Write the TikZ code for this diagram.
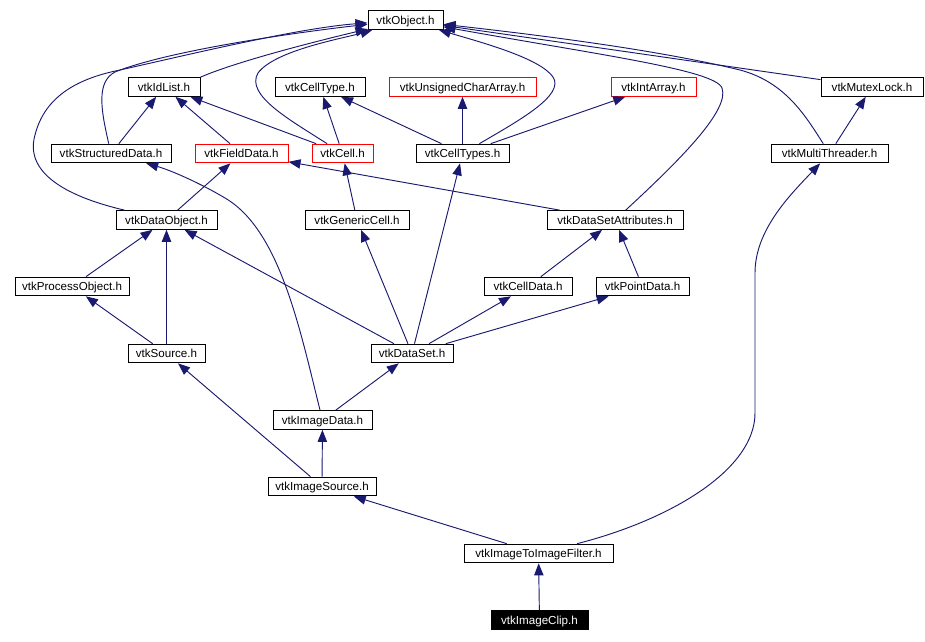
\documentclass[tikz,border=0pt]{standalone}
\usepackage{fontspec}
\setmainfont{Liberation Sans}
\usepackage{xcolor}
\usetikzlibrary{arrows.meta}
\definecolor{edgeblue}{HTML}{191970}

\begin{document}
\begin{tikzpicture}[x=0.75pt, y=-0.75pt,
  every node/.style={font=\fontsize{8.7}{10}\selectfont},
  hdr/.style={draw=black, line width=0.75pt, fill=white, inner sep=0pt,
    text height=6.3pt, text depth=0pt,
    minimum height=14pt, minimum width=#1*0.75pt},
  hdrred/.style={hdr=#1, draw=red},
  hdrcur/.style={hdr=#1, fill=black, text=white},
  dep/.style={draw=edgeblue, line width=0.7pt,
    -{Triangle[length=9pt,width=7pt]}}]
\useasboundingbox (0,0) rectangle (925,642);

% headers, row by row
\node[hdr=75] (obj) at (405.5,20) {vtkObject.h};
\node[hdr=72] (idlist) at (164,87) {vtkIdList.h};
\node[hdr=90] (celltype) at (320,87) {vtkCellType.h};
\node[hdrred=147] (ucarray) at (462.5,87) {vtkUnsignedCharArray.h};
\node[hdrred=85] (intarray) at (653.5,87) {vtkIntArray.h};
\node[hdr=102] (mutex) at (872,87) {vtkMutexLock.h};
\node[hdr=120] (sdata) at (111,153.5) {vtkStructuredData.h};
\node[hdrred=93] (fdata) at (241.5,153.5) {vtkFieldData.h};
\node[hdrred=61] (cell) at (342.5,153.5) {vtkCell.h};
\node[hdr=93] (celltypes) at (462.5,153.5) {vtkCellTypes.h};
\node[hdr=117] (mthread) at (829.5,153.5) {vtkMultiThreader.h};
\node[hdr=101] (dobj) at (166.5,220) {vtkDataObject.h};
\node[hdr=104] (gcell) at (357,220) {vtkGenericCell.h};
\node[hdr=136] (dsattr) at (615,220) {vtkDataSetAttributes.h};
\node[hdr=114] (pobj) at (72,286.5) {vtkProcessObject.h};
\node[hdr=88] (cdata) at (528,286.5) {vtkCellData.h};
\node[hdr=93] (pdata) at (642.5,286.5) {vtkPointData.h};
\node[hdr=77] (src) at (166.5,353.5) {vtkSource.h};
\node[hdr=82] (dset) at (412,353.5) {vtkDataSet.h};
\node[hdr=99] (idata) at (322.5,420) {vtkImageData.h};
\node[hdr=108] (isrc) at (322,486.5) {vtkImageSource.h};
\node[hdr=149] (itoif) at (538.5,553.5) {vtkImageToImageFilter.h};
\node[hdrcur=97] (iclip) at (539.5,620) {vtkImageClip.h};

% includes of vtkObject.h
\draw[dep] (dobj) .. controls (60,195) and (25,170) .. (35,135)
  .. controls (45,95) and (80,78) .. (120,70)
  .. controls (200,52) and (300,28) .. (obj);
\draw[dep] (sdata) .. controls (101,110) and (96,82) .. (115,72)
  .. controls (170,50) and (300,32) .. (obj);
\draw[dep] (idlist.north east) .. controls (240,60) and (330,38) .. (obj);
\draw[dep] (cell) .. controls (290,120) and (245,95) .. (258,73)
  .. controls (275,50) and (345,38) .. (obj);
\draw[dep] (celltypes) .. controls (520,120) and (565,95) .. (553,77)
  .. controls (540,58) and (480,42) .. (obj);
\draw[dep] (dsattr) .. controls (680,160) and (730,110) .. (722,88)
  .. controls (715,70) and (600,55) .. (obj);
\draw[dep] (mthread) .. controls (805,115) and (785,82) .. (740,70)
  .. controls (650,48) and (520,33) .. (obj);
\draw[dep] (mutex) -- (obj);

% second level
\draw[dep] (sdata) -- (idlist);
\draw[dep] (fdata) -- (idlist);
\draw[dep] (cell) -- (idlist);
\draw[dep] (cell) -- (celltype);
\draw[dep] (celltypes) -- (celltype);
\draw[dep] (celltypes) -- (ucarray);
\draw[dep] (celltypes) -- (intarray);
\draw[dep] (mthread) -- (mutex);

% third level
\draw[dep] (dobj) -- (fdata);
\draw[dep] (dsattr) -- (fdata);
\draw[dep] (gcell) -- (cell);
\draw[dep] (pobj) -- (dobj);
\draw[dep] (cdata) -- (dsattr);
\draw[dep] (pdata) -- (dsattr);

% sources and data sets
\draw[dep] (src) -- (dobj);
\draw[dep] (src) -- (pobj);
\draw[dep] (dset) -- (dobj);
\draw[dep] (dset) -- (gcell);
\draw[dep] (dset) -- (celltypes);
\draw[dep] (dset) -- (cdata);
\draw[dep] (dset) -- (pdata);

% image classes
\draw[dep] (idata) -- (dset);
\draw[dep] (idata) .. controls (300,330) and (280,230) .. (225,198)
  .. controls (200,183) and (170,170) .. (sdata);
\draw[dep] (isrc) -- (idata);
\draw[dep] (isrc) -- (src);
\draw[dep] (itoif) -- (isrc);
\draw[dep] (itoif) .. controls (670,520) and (755,470) .. (755,413)
  -- (755,273) .. controls (755,230) and (790,195) .. (mthread);
\draw[dep] (iclip) -- (itoif);
\end{tikzpicture}
\end{document}
